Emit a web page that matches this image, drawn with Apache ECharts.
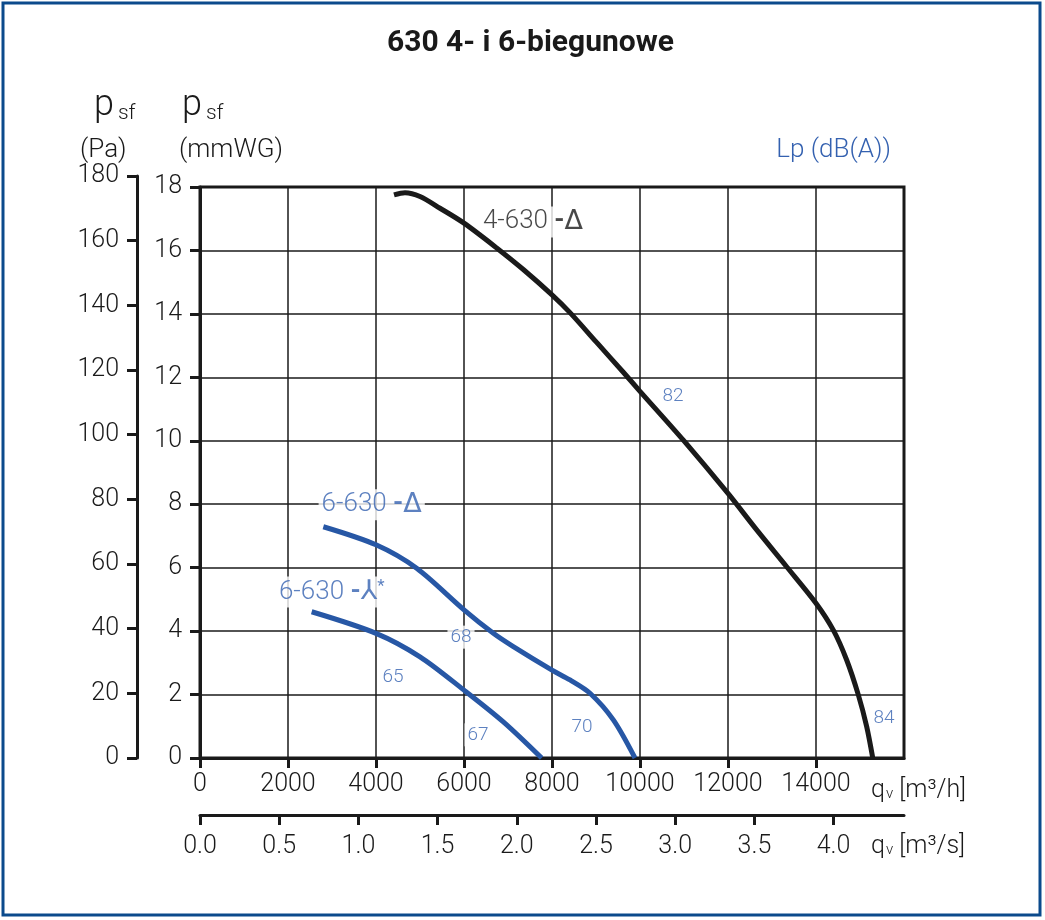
<!DOCTYPE html>
<html>
<head>
<meta charset="utf-8">
<title>630 4- i 6-biegunowe</title>
<script src="https://cdn.jsdelivr.net/npm/echarts@6/dist/echarts.min.js"></script>
<style>
    html, body { margin: 0; padding: 0; background: #fff; }
    #main { width: 1045px; height: 920px; }
</style>
</head>
<body>
<div id="main"></div>
<script>
// charakterystyki [qv m3/h, psf mmWG]
var curve4D = [
    [4409, 17.75], [4659, 17.82], [5000, 17.70], [5455, 17.33], [6000, 16.86],
    [6742, 16.08], [7348, 15.40], [8000, 14.60], [8409, 14.04], [9015, 13.10],
    [9621, 12.16], [10000, 11.56], [10985, 10.02], [12000, 8.34], [12652, 7.19],
    [13333, 6.03], [14000, 4.88], [14394, 4.03], [14697, 3.09], [14962, 1.99],
    [15152, 0.99], [15290, 0]
];
var curve6D = [
    [2803, 7.29], [4000, 6.72], [4924, 5.98], [6000, 4.67], [6667, 3.93],
    [7121, 3.51], [8000, 2.77], [8409, 2.46], [8864, 2.04], [9394, 1.20], [9886, 0]
];
var curve6Y = [
    [2538, 4.61], [4000, 3.93], [5000, 3.19], [6000, 2.14], [6894, 1.14], [7765, 0]
];
// osie
var qvTicks = [0, 2000, 4000, 6000, 8000, 10000, 12000, 14000];
var qvsTicks = [0, 0.5, 1.0, 1.5, 2.0, 2.5, 3.0, 3.5, 4.0];
var paTicks = [0, 20, 40, 60, 80, 100, 120, 140, 160, 180];
// opisy krzywych i poziomy Lp [tekst, qv, psf]
var curveTags = [
    ['4-630 -Δ', 7568, 16.9, 'black'],
    ['6-630 -Δ', 3902, 7.98, 'blue'],
    ['6-630 -⅄*', 2993, 5.23, 'blue'],
    ['82', 10750, 11.41, 'lp'],
    ['84', 15545, 1.26, 'lp'],
    ['68', 5932, 3.81, 'lp'],
    ['65', 4386, 2.55, 'lp'],
    ['67', 6318, 0.73, 'lp'],
    ['70', 8682, 0.98, 'lp']
];

var qvMax = 16000;
var psfMax = 18;

$main()
function $main() {
    var myChart = echarts.init(document.getElementById('main'));
    var font = 'Roboto, "Liberation Sans", sans-serif';
    var ink = '#1a1a1a';
    var blue = '#2757a5';
    var blueText = '#3461b0';

    var tagData = curveTags.map(function (t) {
        var text, rich;
        if (t[3] === 'lp') {
            text = '{n|' + t[0] + '}';
            rich = { n: { fontSize: 19, color: blueText, fontFamily: font, fontWeight: 300 } };
        } else {
            var col = t[3] === 'blue' ? blueText : ink;
            rich = {
                a: { fontSize: 26, color: col, fontFamily: font, fontWeight: 300 },
                d: { fontSize: 26, color: col, fontFamily: font, fontWeight: 'bold' },
                b: { fontSize: 27, color: col, fontFamily: '"DejaVu Sans", sans-serif', fontWeight: 'normal' },
                c: { fontSize: 17, color: col, fontFamily: font, verticalAlign: 'top', padding: [0, 0, 10, 0] }
            };
            var parts = t[0].split(' ');
            var sym = parts[1].replace('-', '');
            text = '{a|' + parts[0] + ' }{d|-}';
            if (sym.indexOf('*') > -1) {
                text += '{b|' + sym.replace('*', '') + '}{c|*}';
            } else {
                text += '{b|' + sym + '}';
            }
        }
        return {
            name: t[0],
            value: [t[1], t[2]],
            label: {
                show: true,
                position: 'inside',
                formatter: text,
                rich: rich,
                backgroundColor: '#fff',
                padding: [2, 3]
            }
        };
    });

    var tickFont = { color: ink, fontSize: 25, fontFamily: font, fontWeight: 300 };
    var subText = function (x, y, unit) {
        return {
            type: 'text', x: x, y: y,
            style: {
                text: '{q|q}{v|v}{u| [m³/' + unit + ']}', verticalAlign: 'middle',
                rich: {
                    q: { fontSize: 25, fontFamily: font, fontWeight: 300, fill: ink },
                    v: { fontSize: 15, fontFamily: font, fontWeight: 300, fill: ink, padding: [7, 0, 0, 1] },
                    u: { fontSize: 25, fontFamily: font, fontWeight: 300, fill: ink }
                }
            }
        };
    };
    var psfText = function (x) {
        return {
            type: 'text', x: x, y: 124,
            style: {
                text: '{p|p}{s|sf}', verticalAlign: 'bottom',
                rich: {
                    p: { fontSize: 36, fontFamily: font, fontWeight: 300, fill: ink, verticalAlign: 'bottom' },
                    s: { fontSize: 21, fontFamily: font, fontWeight: 300, fill: ink, verticalAlign: 'bottom', padding: [0, 0, 0, 4] }
                }
            }
        };
    };

    var option = {
        animation: false,
        backgroundColor: '#fff',
        title: {
            text: '630 4- i 6-biegunowe',
            left: 387,
            top: 28,
            padding: 0,
            textStyle: { fontFamily: font, fontWeight: 'bold', fontSize: 30, color: ink }
        },
        grid: [
            // główny wykres
            { left: 200, top: 187, width: 704, height: 571, show: true, borderWidth: 3, borderColor: ink },
            // oś Pa
            { left: 137, top: 176, width: 1, height: 582 },
            // oś m3/s
            { left: 200, top: 814, width: 704, height: 1 }
        ],
        xAxis: [
            {
                gridIndex: 0, type: 'value', min: 0, max: qvMax, interval: 2000,
                axisLine: { lineStyle: { color: ink, width: 3 } },
                axisTick: { customValues: qvTicks, length: 10, lineStyle: { color: ink, width: 3 } },
                axisLabel: Object.assign({ customValues: qvTicks, margin: 14, formatter: function (v) { return String(v); } }, tickFont),
                splitLine: { show: true, lineStyle: { color: ink, width: 1.5 } }
            },
            { gridIndex: 1, type: 'value', show: false },
            {
                gridIndex: 2, type: 'value', min: 0, max: qvMax / 3600,
                axisLine: { lineStyle: { color: ink, width: 3 } },
                axisTick: { customValues: qvsTicks, length: 10, lineStyle: { color: ink, width: 3 } },
                axisLabel: Object.assign({ customValues: qvsTicks, margin: 19, formatter: function (v) { return v.toFixed(1); } }, tickFont),
                splitLine: { show: false }
            }
        ],
        yAxis: [
            {
                gridIndex: 0, type: 'value', min: 0, max: psfMax, interval: 2,
                axisLine: { show: true, lineStyle: { color: ink, width: 3 } },
                axisTick: { show: true, length: 10, lineStyle: { color: ink, width: 3 } },
                axisLabel: Object.assign({ margin: 18 }, tickFont),
                splitLine: { show: true, lineStyle: { color: ink, width: 1.5 } }
            },
            {
                gridIndex: 1, type: 'value', min: 0, max: 180, interval: 20,
                axisLine: { show: true, lineStyle: { color: ink, width: 3 } },
                axisTick: { show: true, customValues: paTicks, length: 10, lineStyle: { color: ink, width: 3 } },
                axisLabel: Object.assign({ customValues: paTicks, margin: 18 }, tickFont),
                splitLine: { show: false }
            },
            { gridIndex: 2, type: 'value', show: false }
        ],
        graphic: [
            {
                type: 'rect', shape: { x: 3, y: 3, width: 1037, height: 912 },
                style: { fill: null, stroke: '#0b4a8c', lineWidth: 3 }, silent: true
            },
            psfText(94),
            psfText(182),
            {
                type: 'text', x: 80, y: 150,
                style: { text: '(Pa)', fontSize: 26, fontFamily: font, fontWeight: 300, fill: ink, verticalAlign: 'middle' }
            },
            {
                type: 'text', x: 179, y: 150,
                style: { text: '(mmWG)', fontSize: 26, fontFamily: font, fontWeight: 300, fill: ink, verticalAlign: 'middle' }
            },
            {
                type: 'text', x: 891, y: 150,
                style: { text: 'Lp (dB(A))', fontSize: 26, fontFamily: font, fontWeight: 300, fill: blueText, align: 'right', verticalAlign: 'middle' }
            },
            subText(871, 791, 'h'),
            subText(871, 847, 's')
        ],
        series: [
            {
                name: '4-630 -Δ', type: 'line', xAxisIndex: 0, yAxisIndex: 0,
                data: curve4D, smooth: 0.3, showSymbol: false, z: 3,
                lineStyle: { color: ink, width: 5 }
            },
            {
                name: '6-630 -Δ', type: 'line', xAxisIndex: 0, yAxisIndex: 0,
                data: curve6D, smooth: 0.3, showSymbol: false, z: 3,
                lineStyle: { color: blue, width: 5 }
            },
            {
                name: '6-630 -⅄*', type: 'line', xAxisIndex: 0, yAxisIndex: 0,
                data: curve6Y, smooth: 0.3, showSymbol: false, z: 3,
                lineStyle: { color: blue, width: 5 }
            },
            {
                // opisy pod krzywymi, nad siatką
                name: 'opisy', type: 'scatter', xAxisIndex: 0, yAxisIndex: 0,
                symbolSize: 0, z: 2, silent: true,
                data: tagData
            }
        ]
    };
    myChart.setOption(option);
}
</script>
</body>
</html>
